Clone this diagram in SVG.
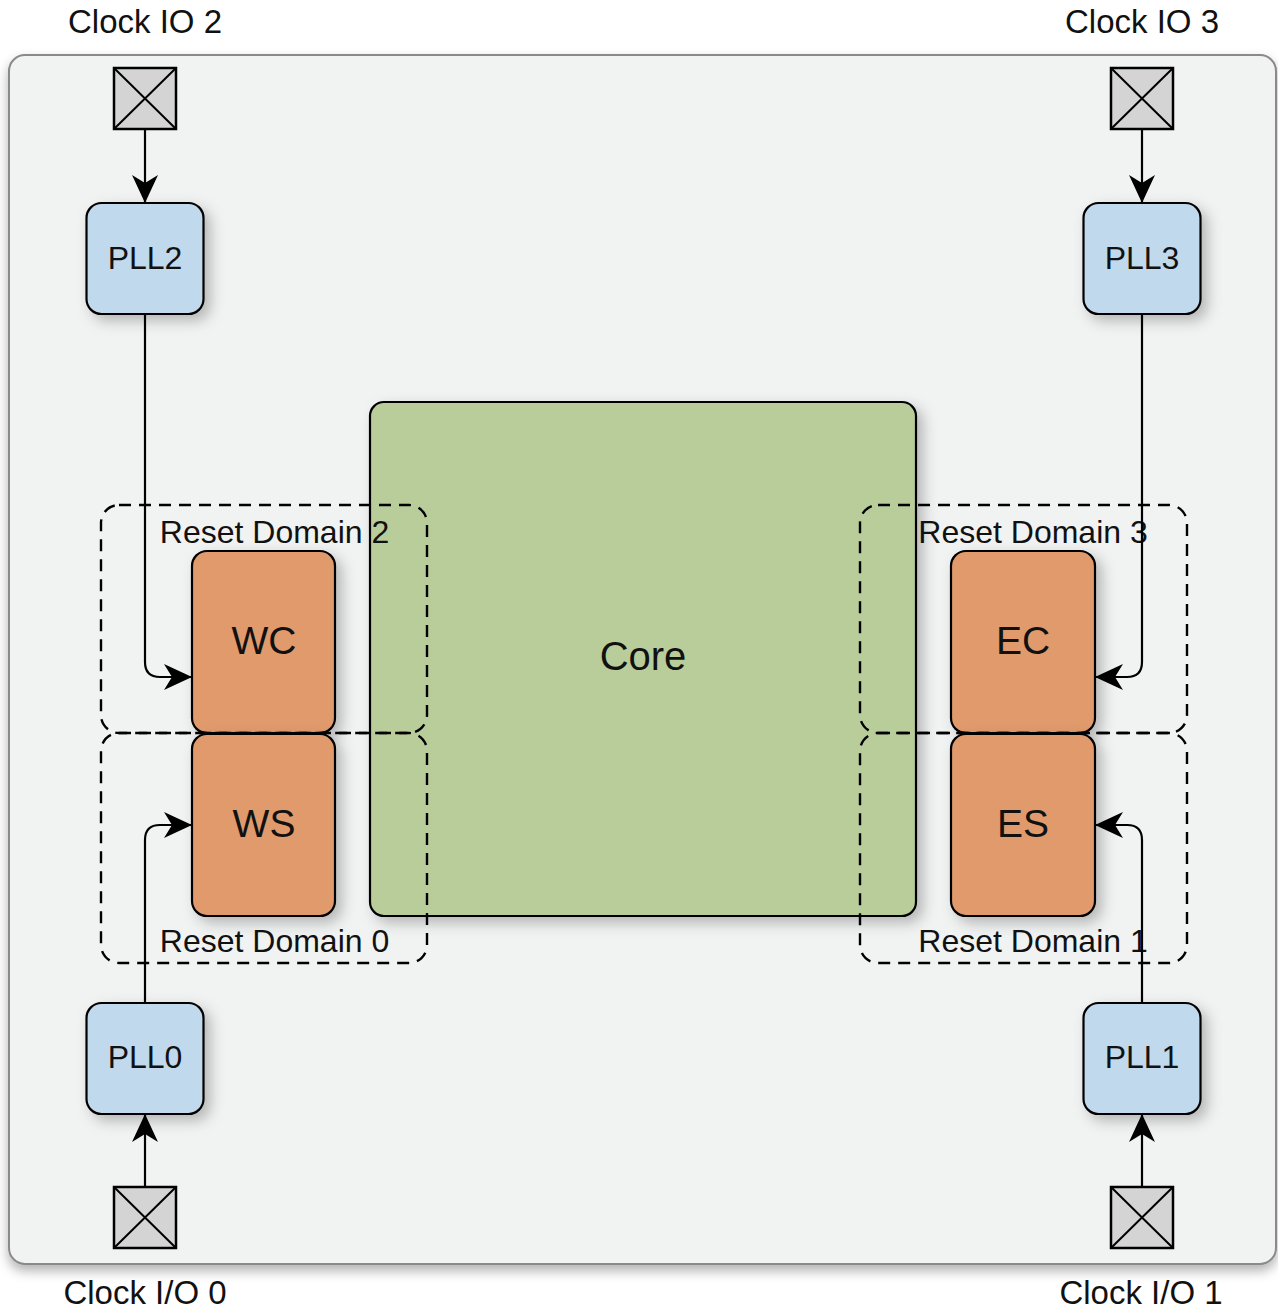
<svg xmlns="http://www.w3.org/2000/svg" width="1278" height="1310" viewBox="0 0 1278 1310">
  <defs>
    <filter id="shadow" x="-25%" y="-25%" width="160%" height="160%">
      <feDropShadow dx="6" dy="6" stdDeviation="7" flood-color="#000" flood-opacity="0.25"/>
    </filter>
    <filter id="panelShadow" x="-5%" y="-5%" width="110%" height="110%">
      <feDropShadow dx="0" dy="6" stdDeviation="6" flood-color="#000" flood-opacity="0.3"/>
    </filter>
    <marker id="arrow" viewBox="0 0 28 26" refX="28" refY="13" markerWidth="28" markerHeight="26" markerUnits="userSpaceOnUse" orient="auto">
      <path d="M0,0 L28,13 L0,26 L8,13 Z" fill="#000"/>
    </marker>
    <style>
      .label { font-family: "Liberation Sans", Arial, sans-serif; fill: #111; }
      .io { font-size: 33px; text-anchor: middle; }
      .pll { fill: #c0d9ec; stroke: #000; stroke-width: 2.2; filter: url(#shadow); }
      .pll-t { font-size: 32px; text-anchor: middle; }
      .pad { fill: #d4d4d4; stroke: #000; stroke-width: 2.5; }
      .padx { stroke: #000; stroke-width: 2; }
      .blk { fill: #e09a6c; stroke: #000; stroke-width: 2.2; filter: url(#shadow); }
      .blk-t { font-size: 39px; text-anchor: middle; }
      .core-t { font-size: 40px; text-anchor: middle; }
      .core { fill: #b9cd9a; stroke: #000; stroke-width: 2.2; filter: url(#shadow); }
      .domain { fill: none; stroke: #000; stroke-width: 2.4; stroke-dasharray: 12 8; }
      .dom-t { font-size: 32px; text-anchor: middle; }
      .wire { fill: none; stroke: #000; stroke-width: 2.2; }
    </style>
  </defs>

  <!-- chip outline -->
  <rect id="chip" x="9" y="55" width="1267" height="1209" rx="16" fill="#f1f2f2" stroke="#8a8a8a" stroke-width="2" filter="url(#panelShadow)"/>

  <!-- clock pin labels -->
  <g id="labels">
    <text class="label io" x="145" y="33">Clock IO 2</text>
    <text class="label io" x="1142" y="33">Clock IO 3</text>
    <text class="label io" x="145" y="1304">Clock I/O 0</text>
    <text class="label io" x="1141" y="1304">Clock I/O 1</text>
  </g>

  <!-- clock input pads -->
  <g id="pad2">
    <rect class="pad" x="114" y="68" width="62" height="61"/>
    <path class="padx" d="M114,68 L176,129 M176,68 L114,129"/>
  </g>
  <g id="pad3">
    <rect class="pad" x="1111" y="68" width="62" height="61"/>
    <path class="padx" d="M1111,68 L1173,129 M1173,68 L1111,129"/>
  </g>
  <g id="pad0">
    <rect class="pad" x="114" y="1187" width="62" height="61"/>
    <path class="padx" d="M114,1187 L176,1248 M176,1187 L114,1248"/>
  </g>
  <g id="pad1">
    <rect class="pad" x="1111" y="1187" width="62" height="61"/>
    <path class="padx" d="M1111,1187 L1173,1248 M1173,1187 L1111,1248"/>
  </g>

  <!-- core -->
  <g id="core">
    <rect class="core" x="370" y="402" width="546" height="514" rx="14"/>
    <text class="label core-t" x="643" y="670">Core</text>
  </g>

  <!-- PLLs -->
  <g id="pll2">
    <rect class="pll" x="86.5" y="203" width="117" height="111" rx="15"/>
    <text class="label pll-t" x="145" y="269">PLL2</text>
  </g>
  <g id="pll3">
    <rect class="pll" x="1083.5" y="203" width="117" height="111" rx="15"/>
    <text class="label pll-t" x="1142" y="269">PLL3</text>
  </g>
  <g id="pll0">
    <rect class="pll" x="86.5" y="1003" width="117" height="111" rx="15"/>
    <text class="label pll-t" x="145" y="1068">PLL0</text>
  </g>
  <g id="pll1">
    <rect class="pll" x="1083.5" y="1003" width="117" height="111" rx="15"/>
    <text class="label pll-t" x="1142" y="1068">PLL1</text>
  </g>

  <!-- clock domain blocks -->
  <g id="wc">
    <rect class="blk" x="192" y="551" width="143" height="182" rx="15"/>
    <text class="label blk-t" x="264" y="654">WC</text>
  </g>
  <g id="ws">
    <rect class="blk" x="192" y="734" width="143" height="182" rx="15"/>
    <text class="label blk-t" x="264" y="837">WS</text>
  </g>
  <g id="ec">
    <rect class="blk" x="951" y="551" width="144" height="182" rx="15"/>
    <text class="label blk-t" x="1023" y="654">EC</text>
  </g>
  <g id="es">
    <rect class="blk" x="951" y="734" width="144" height="182" rx="15"/>
    <text class="label blk-t" x="1023" y="837">ES</text>
  </g>

  <!-- reset domains -->
  <g id="reset-domain-2">
    <rect class="domain" x="101" y="505" width="326" height="228" rx="18"/>
    <text class="label dom-t" x="274.5" y="543">Reset Domain 2</text>
  </g>
  <g id="reset-domain-0">
    <rect class="domain" x="101" y="733" width="326" height="230" rx="18"/>
    <text class="label dom-t" x="274.5" y="952">Reset Domain 0</text>
  </g>
  <g id="reset-domain-3">
    <rect class="domain" x="860" y="505" width="327" height="228" rx="18"/>
    <text class="label dom-t" x="1033" y="543">Reset Domain 3</text>
  </g>
  <g id="reset-domain-1">
    <rect class="domain" x="860" y="733" width="327" height="230" rx="18"/>
    <text class="label dom-t" x="1033" y="952">Reset Domain 1</text>
  </g>

  <!-- clock connections -->
  <g id="connectors">
    <path class="wire" d="M145,129 V203" marker-end="url(#arrow)"/>
    <path class="wire" d="M1142,129 V203" marker-end="url(#arrow)"/>
    <path class="wire" d="M145,1187 V1114" marker-end="url(#arrow)"/>
    <path class="wire" d="M1142,1187 V1114" marker-end="url(#arrow)"/>
    <path class="wire" d="M145,314 V662 Q145,677 160,677 H192" marker-end="url(#arrow)"/>
    <path class="wire" d="M145,1003 V840 Q145,825 160,825 H192" marker-end="url(#arrow)"/>
    <path class="wire" d="M1142,314 V662 Q1142,677 1127,677 H1095" marker-end="url(#arrow)"/>
    <path class="wire" d="M1142,1003 V840 Q1142,825 1127,825 H1095" marker-end="url(#arrow)"/>
  </g>
</svg>
